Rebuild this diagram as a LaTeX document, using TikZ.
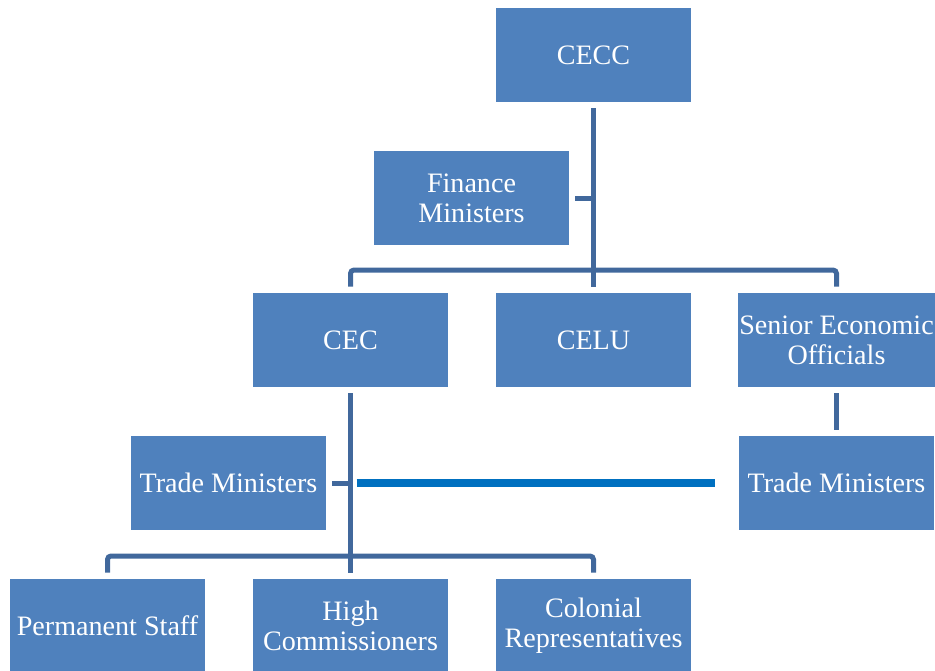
\documentclass[tikz,border=0pt]{standalone}
\usepackage{fontspec}
\setmainfont{Liberation Serif}
\definecolor{boxblue}{RGB}{79, 129, 189}
\definecolor{linkblue}{RGB}{65, 104, 156}
\definecolor{tieblue}{RGB}{0, 112, 192}
\usetikzlibrary{calc}

\begin{document}
\begin{tikzpicture}[x=0.02cm, y=-0.02cm,
  unit/.style={fill=boxblue, text=white, minimum width=3.9cm, minimum height=1.88cm,
    inner sep=1pt, align=center, font=\rmfamily\fontsize{16}{17}\selectfont},
  link/.style={draw=linkblue, line width=0.1cm, shorten <=0.12cm, shorten >=0.12cm},
  tie/.style={draw=tieblue, line width=0.16cm}]
  \clip (0, 0) rectangle (935, 670);

  % Committee top level
  \node[unit] (cecc) at (593.5, 55) {CECC};
  \node[unit] (fin) at (471.5, 198) {Finance\\Ministers};

  % Second row
  \node[unit] (cec) at (350.5, 340) {CEC};
  \node[unit] (celu) at (593.5, 340) {CELU};
  \node[unit] (seo) at (836.5, 340) {Senior Economic\\Officials};

  % Trade ministers on both sides
  \node[unit] (trade1) at (228.5, 483) {Trade Ministers};
  \node[unit] (trade2) at (836.5, 483) {Trade Ministers};

  % Bottom row
  \node[unit] (perm) at (107.5, 626) {Permanent Staff};
  \node[unit] (high) at (350.5, 626) {High\\Commissioners};
  \node[unit] (colo) at (593.5, 626) {Colonial\\Representatives};

  % Branch points
  \coordinate (hub1) at (593.5, 270);
  \coordinate (hub2) at (350.5, 556);

  % Connectors
  \draw[link] (cecc.south) -- (celu.north);
  \draw[link, shorten >=0pt] (fin.east) -- (fin.east -| cecc.south);
  \draw[link, rounded corners=2pt] (cec.north) |- (hub1) -| (seo.north);
  \draw[link] (seo.south) -- (trade2.north);
  \draw[link] (cec.south) -- (high.north);
  \draw[link, shorten >=0pt] (trade1.east) -- (trade1.east -| cec.south);
  \draw[link, rounded corners=2pt] (perm.north) |- (hub2) -| (colo.north);
  \draw[tie, shorten <=0.12cm, shorten >=0.48cm] (trade1.east -| cec.south) -- (trade2.west);
\end{tikzpicture}
\end{document}
